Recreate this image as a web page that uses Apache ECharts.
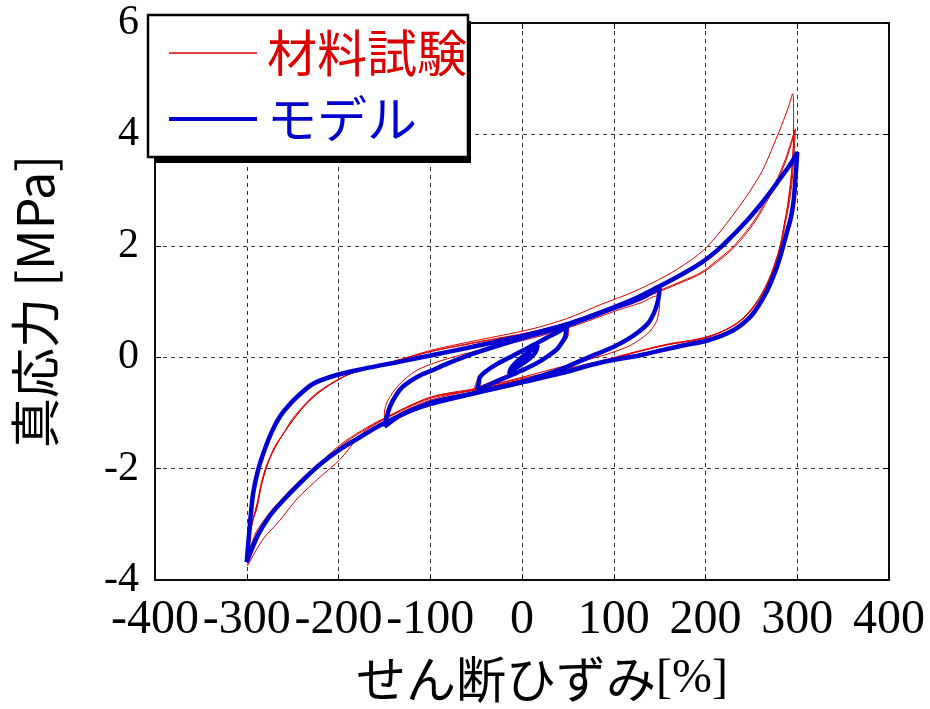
<!DOCTYPE html>
<html>
<head>
<meta charset="utf-8">
<script src="https://cdn.jsdelivr.net/npm/echarts@6/dist/echarts.min.js"></script>
<style>
html,body{margin:0;padding:0;background:#fff;}
#chart{width:930px;height:709px;}
</style>
</head>
<body>
<div id="chart"></div>
<script>
// ---- axis ranges / labels ----
const xMin = -400, xMax = 400, xStep = 100;
const yMin = -4, yMax = 6, yStep = 2;
const xTitle = 'せん断ひずみ';
const xUnit = '[%]';
const yTitle = '真応力 [MPa]';
const seriesNames = ['材料試験', 'モデル'];

// ---- 材料試験 (red) loops, [strain %, stress MPa] ----
const red300First = [
 [-299,-3.74],[-297,-3.3],[-294,-2.95],[-289,-2.72],[-284,-2.3],[-278,-1.96],[-270,-1.62],[-260,-1.37],[-250,-1.1],[-239,-0.89],[-225,-0.66],[-209,-0.48],[-191,-0.32],[-173,-0.22],[-140,-0.08],[-100,0.12],[-50,0.3],[9,0.5],[50,0.7],[85,0.94],[121,1.17],[158,1.47],[183,1.73],[201,1.97],[223,2.4],[248,2.97],[262,3.35],[274,3.8],[285,4.25],[291,4.52],[295,4.73],
 [296,4.4],[296,4.0],[295,3.6],[293,3.2],[289,2.67],[285,2.3],[281,1.96],[274,1.6],[267,1.3],[256,1.0],[245,0.77],[235,0.62],[223,0.5],[210,0.4],[194,0.32],[158,0.22],[120,0.08],[85,-0.07],[40,-0.24],[0,-0.38],[-50,-0.56],[-100,-0.72],[-151,-1.12],[-175,-1.38],[-198,-1.83],[-220,-2.15],[-245,-2.54],[-265,-2.95],[-282,-3.26],[-299,-3.74]
];
const red300Second = [
 [-300,-3.62],[-297,-3.2],[-293,-2.9],[-289,-2.65],[-284,-2.25],[-278,-1.92],[-268,-1.58],[-258,-1.32],[-246,-1.05],[-236,-0.85],[-222,-0.64],[-207,-0.47],[-190,-0.32],[-170,-0.21],[-140,-0.08],[-100,0.1],[-50,0.27],[9,0.45],[50,0.62],[85,0.8],[121,1.01],[150,1.2],[175,1.37],[195,1.52],[212,1.73],[228,1.95],[241,2.19],[255,2.5],[267,2.85],[278,3.2],[287,3.55],[293,3.85],[297,4.07],
 [296,3.8],[295,3.5],[293,3.1],[290,2.75],[286,2.4],[282,2.05],[276,1.7],[269,1.4],[260,1.1],[250,0.86],[238,0.66],[225,0.52],[208,0.4],[190,0.32],[160,0.24],[125,0.1],[85,-0.08],[40,-0.26],[0,-0.4],[-50,-0.58],[-100,-0.72],[-151,-1.1],[-175,-1.32],[-198,-1.57],[-222,-1.92],[-245,-2.26],[-262,-2.55],[-275,-2.79],[-290,-3.15],[-300,-3.62]
];
const red300Third = [
 [-299,-3.58],[-296,-3.15],[-292,-2.85],[-288,-2.6],[-283,-2.22],[-277,-1.9],[-267,-1.56],[-257,-1.3],[-245,-1.03],[-235,-0.84],[-221,-0.63],[-206,-0.46],[-189,-0.31],[-170,-0.2],[-140,-0.07],[-100,0.1],[-50,0.26],[9,0.44],[50,0.6],[85,0.78],[121,0.99],[150,1.18],[175,1.35],[195,1.5],[212,1.7],[228,1.92],[241,2.15],[255,2.46],[267,2.8],[278,3.15],[287,3.5],[293,3.8],[298,4.1],
 [297,3.8],[296,3.5],[294,3.1],[291,2.75],[287,2.4],[283,2.05],[277,1.7],[270,1.4],[261,1.1],[251,0.86],[239,0.66],[226,0.52],[209,0.4],[191,0.32],[160,0.23],[125,0.09],[85,-0.09],[40,-0.27],[0,-0.41],[-50,-0.59],[-100,-0.74],[-151,-1.12],[-175,-1.34],[-198,-1.6],[-222,-1.95],[-245,-2.3],[-262,-2.58],[-275,-2.82],[-290,-3.2],[-299,-3.58]
];
const red150 = [
 [-150,-1.17],[-150,-1.0],[-148,-0.85],[-145,-0.74],[-136,-0.53],[-126,-0.37],[-114,-0.23],[-95,-0.1],[-60,0.07],[-20,0.22],[20,0.38],[60,0.58],[100,0.82],[130,0.98],[147,1.1],
 [150,1.02],[150,0.94],[149,0.8],[147,0.66],[142,0.52],[136,0.41],[125,0.28],[114,0.18],[90,0.04],[50,-0.14],[0,-0.36],[-50,-0.57],[-100,-0.77],[-130,-0.98],[-150,-1.17]
];
const red50 = [
 [-52,-0.56],[-50,-0.46],[-46,-0.34],[-38,-0.22],[-25,-0.08],[-10,0.05],[5,0.17],[20,0.29],[35,0.42],[50,0.54],
 [51,0.45],[49,0.34],[44,0.22],[36,0.1],[25,-0.02],[10,-0.15],[-10,-0.28],[-30,-0.42],[-52,-0.56]
];
const red20 = [
 [-15,-0.29],[-13,-0.2],[-8,-0.1],[0,0.01],[8,0.11],[17,0.22],
 [16,0.13],[13,0.05],[7,-0.04],[0,-0.12],[-7,-0.2],[-15,-0.29]
];

// ---- モデル (blue) loops, [strain %, stress MPa] ----
const blue300 = [
 [-300,-3.68],[-296,-2.9],[-293,-2.44],[-288,-2.05],[-282,-1.73],[-273,-1.35],[-264,-1.07],[-255,-0.88],[-245,-0.71],[-228,-0.48],[-202,-0.32],[-173,-0.21],[-130,-0.07],[-100,0.03],[-50,0.2],[0,0.38],[45,0.57],[85,0.8],[120,1.03],[147,1.25],[170,1.45],[194,1.68],[215,1.95],[230,2.19],[245,2.45],[259,2.72],[270,2.95],[281,3.2],[292,3.45],[300,3.68],
 [298,3.2],[296,2.8],[293,2.5],[289,2.26],[281,1.78],[274,1.45],[267,1.19],[258,0.93],[248,0.71],[230,0.48],[202,0.3],[175,0.21],[130,0.04],[85,-0.1],[40,-0.3],[0,-0.45],[-50,-0.64],[-100,-0.82],[-151,-1.19],[-175,-1.42],[-198,-1.65],[-222,-1.95],[-245,-2.31],[-262,-2.6],[-275,-2.85],[-288,-3.2],[-300,-3.68]
];
const blue150 = [
 [-150,-1.25],[-147,-1.05],[-144,-0.89],[-138,-0.7],[-130,-0.53],[-120,-0.41],[-108,-0.3],[-100,-0.25],[-82,-0.12],[-50,0.08],[0,0.34],[45,0.55],[100,0.88],[130,1.06],[150,1.25],
 [149,1.08],[147,0.94],[144,0.8],[138,0.62],[129,0.48],[115,0.32],[99,0.18],[70,-0.02],[45,-0.2],[20,-0.34],[0,-0.44],[-50,-0.64],[-100,-0.84],[-130,-1.02],[-150,-1.25]
];
const blue50 = [
 [-49,-0.6],[-47,-0.45],[-46,-0.36],[-40,-0.26],[-27,-0.12],[-13,0.0],[1,0.12],[15,0.24],[27,0.35],[40,0.46],[49,0.55],
 [48,0.45],[47,0.36],[43,0.25],[38,0.14],[30,0.04],[20,-0.07],[5,-0.2],[-10,-0.31],[-30,-0.45],[-49,-0.6]
];
const blue20 = [
 [-14,-0.3],[-12,-0.2],[-7,-0.1],[0,0.0],[8,0.1],[17,0.22],
 [16,0.14],[13,0.05],[7,-0.04],[0,-0.12],[-7,-0.2],[-14,-0.3]
];
const blue10 = [
 [-7,-0.16],[-5,-0.1],[-1,-0.04],[3,0.02],[8,0.08],
 [7,0.03],[4,-0.02],[0,-0.07],[-4,-0.12],[-7,-0.16]
];

const RED = '#dd0000', BLUE = '#0000d0';
const redLoops = [red300First, red300Second, red300Third, red150, red50, red20];
const blueLoops = [blue300, blue150, blue50, blue20, blue10];

const series = [];
redLoops.forEach(d => series.push({
  name: seriesNames[0], type: 'line', data: d, symbol: 'none', smooth: 0.3,
  lineStyle: { color: RED, width: 1 }, itemStyle: { color: RED }, xAxisIndex: 0, yAxisIndex: 0, z: 2
}));
blueLoops.forEach(d => series.push({
  name: seriesNames[1], type: 'line', data: d, symbol: 'none', smooth: 0.3,
  lineStyle: { color: BLUE, width: 4.5 }, itemStyle: { color: BLUE }, xAxisIndex: 0, yAxisIndex: 0, z: 3
}));

const serif = 'Liberation Serif';
const sans = 'Noto Sans CJK JP';

const chart = echarts.init(document.getElementById('chart'), null, { renderer: 'canvas' });
chart.setOption({
  animation: false,
  backgroundColor: '#fff',
  grid: { left: 155, right: 41, top: 23, bottom: 124, show: true, borderColor: '#000', borderWidth: 1.5, backgroundColor: 'transparent' },
  graphic: [{
    type: 'rect', left: 154, top: 21, z: 5, silent: true,
    shape: { width: 317, height: 142 },
    style: { fill: '#000' }
  }],
  legend: {
    orient: 'vertical', left: 148, top: 15, z: 10,
    padding: [13, 1, 13, 19], itemGap: 16, itemWidth: 88, itemHeight: 20,
    backgroundColor: '#fff', borderColor: '#000', borderWidth: 2.5, borderRadius: 0,
    itemStyle: { opacity: 0 },
    textStyle: { fontSize: 50, fontFamily: sans, lineHeight: 50, padding: [0, 0, 0, 5] },
    data: [
      { name: seriesNames[0], textStyle: { color: RED }, lineStyle: { color: RED, width: 1.6 } },
      { name: seriesNames[1], textStyle: { color: BLUE }, lineStyle: { color: BLUE, width: 4 } }
    ]
  },
  xAxis: [{
    type: 'value', min: xMin, max: xMax, interval: xStep, position: 'bottom',
    name: '{a|' + xTitle + '}{b|' + xUnit + '}', nameLocation: 'middle', nameGap: 74,
    nameTextStyle: { color: '#000', padding: [0, 0, 0, 40],
      rich: {
        a: { fontSize: 50, fontFamily: sans, color: '#000', verticalAlign: 'middle' },
        b: { fontSize: 48, fontFamily: serif, color: '#000', verticalAlign: 'middle' }
      } },
    axisLine: { show: true, onZero: false, lineStyle: { color: '#000', width: 1.5 } },
    axisTick: { show: true, inside: true, length: 6, lineStyle: { color: '#000' } },
    axisLabel: { fontSize: 48, fontFamily: serif, color: '#000', margin: 16, interval: 0, hideOverlap: false },
    splitLine: { show: true, lineStyle: { color: '#333', width: 1, type: [4, 4] } }
  }, {
    type: 'value', min: xMin, max: xMax, interval: xStep, position: 'top',
    axisLine: { show: true, onZero: false, lineStyle: { color: '#000', width: 1.5 } },
    axisTick: { show: true, inside: true, length: 6, lineStyle: { color: '#000' } },
    axisLabel: { show: false }, splitLine: { show: false }
  }],
  yAxis: [{
    type: 'value', min: yMin, max: yMax, interval: yStep, position: 'left',
    name: yTitle, nameLocation: 'middle', nameGap: 95, nameRotate: 90,
    nameTextStyle: { fontSize: 50, fontFamily: sans, color: '#000' },
    axisLine: { show: true, onZero: false, lineStyle: { color: '#000', width: 1.5 } },
    axisTick: { show: true, inside: true, length: 6, lineStyle: { color: '#000' } },
    axisLabel: { fontSize: 42, fontFamily: serif, color: '#000', margin: 16 },
    splitLine: { show: true, lineStyle: { color: '#333', width: 1, type: [4, 4] } }
  }, {
    type: 'value', min: yMin, max: yMax, interval: yStep, position: 'right',
    axisLine: { show: true, onZero: false, lineStyle: { color: '#000', width: 1.5 } },
    axisTick: { show: true, inside: true, length: 6, lineStyle: { color: '#000' } },
    axisLabel: { show: false }, splitLine: { show: false }
  }],
  series: series
});
</script>
</body>
</html>
